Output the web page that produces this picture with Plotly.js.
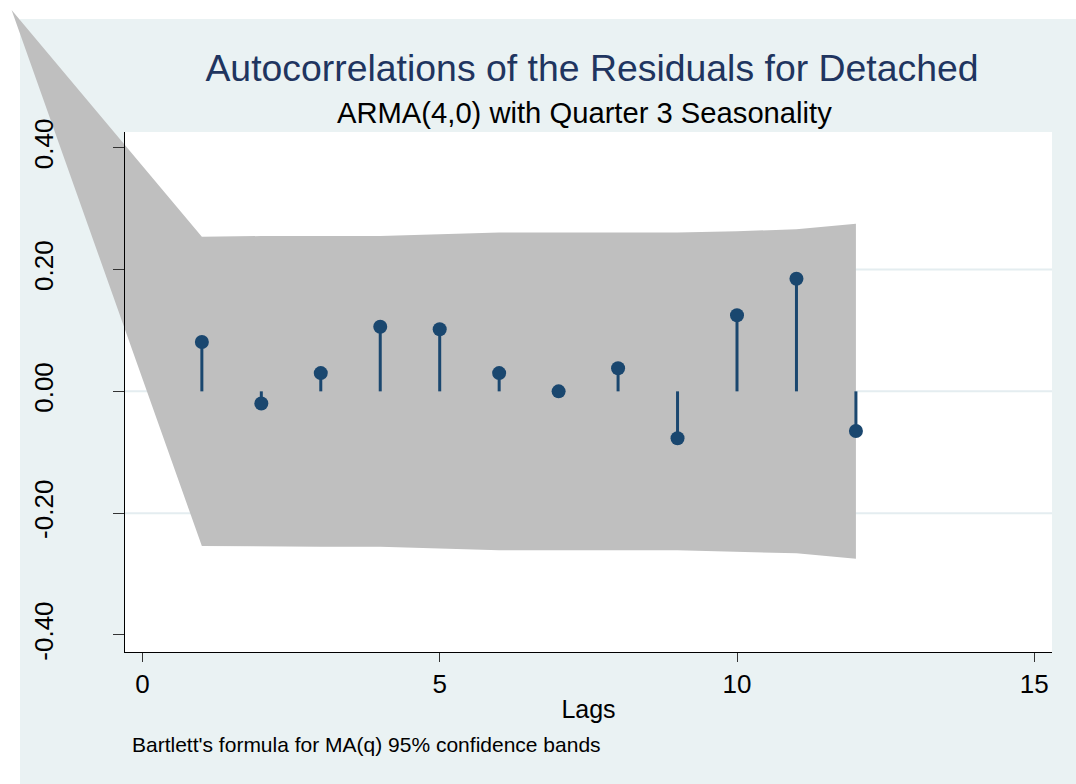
<!DOCTYPE html>
<html>
<head>
<meta charset="utf-8">
<script src="https://cdn.plot.ly/plotly-3.0.1.min.js"></script>
<style>
  html, body { margin: 0; padding: 0; background: #ffffff; }
  #chart { width: 1076px; height: 784px; }
</style>
</head>
<body>
<div id="chart"></div>
<script>
// Residual autocorrelations by lag
const lags = [1, 2, 3, 4, 5, 6, 7, 8, 9, 10, 11, 12];
const acValues = [0.081, -0.020, 0.030, 0.106, 0.102, 0.030, 0.000, 0.038, -0.077, 0.125, 0.185, -0.065];

// Bartlett 95% confidence band (first point is where the two edges meet)
const bandLags = [-2.2, 1, 2, 3, 4, 5, 6, 7, 8, 9, 10, 11, 12];
const bandUpper = [0.626, 0.254, 0.255, 0.255, 0.255, 0.258, 0.261, 0.261, 0.261, 0.261, 0.263, 0.266, 0.275];
const bandLower = [0.626, -0.254, -0.255, -0.255, -0.255, -0.258, -0.261, -0.261, -0.261, -0.261, -0.263, -0.266, -0.275];

// Axis ticks
const xTickVals = [0, 5, 10, 15];
const xTickText = ['0', '5', '10', '15'];
const yTickVals = [-0.4, -0.2, 0, 0.2, 0.4];
const yTickText = ['-0.40', '-0.20', '0.00', '0.20', '0.40'];
const gridVals = [-0.2, 0, 0.2];

// Page geometry (pixels)
const W = 1076, H = 784;
const plotLeft = 125, plotRight = 1052, plotTop = 132, plotBottom = 652;
const lag0Px = 142.4, pxPerLag = 59.46;   // where lag 0 sits, and spacing per lag
const zeroPx = 391.35, pxPerUnit = 609;   // where r = 0 sits, and spacing per unit

const FONT = 'Liberation Sans, Arial, Helvetica, sans-serif';
const NAVY = '#1a476f';
const BAND = '#bfbfbf';
const OUTER = '#eaf2f3';
const GRID = '#e4edf0';

const xDom = [plotLeft / W, plotRight / W];
const yDom = [1 - plotBottom / H, 1 - plotTop / H];

// Band polygon: upper edge forward, lower edge back
const bandX = bandLags.concat(bandLags.slice().reverse());
const bandY = bandUpper.concat(bandLower.slice().reverse());

// Stems from zero to each autocorrelation
const stemX = [], stemY = [];
lags.forEach((l, i) => { stemX.push(l, l, null); stemY.push(0, acValues[i], null); });

const traces = [
  {
    // the band spans the whole page so it can run past the plot region
    type: 'scatter', mode: 'lines', xaxis: 'x', yaxis: 'y',
    x: bandX, y: bandY, fill: 'toself', fillcolor: BAND,
    line: { width: 0, color: BAND }, hoverinfo: 'skip', showlegend: false
  },
  {
    type: 'scatter', mode: 'lines', xaxis: 'x2', yaxis: 'y2',
    x: stemX, y: stemY, line: { color: NAVY, width: 3 },
    hoverinfo: 'skip', showlegend: false
  },
  {
    type: 'scatter', mode: 'markers', xaxis: 'x2', yaxis: 'y2',
    x: lags, y: acValues, marker: { color: NAVY, size: 14 },
    showlegend: false
  }
];

const shapes = [
  // graph region fill
  { type: 'rect', xref: 'paper', yref: 'paper', x0: 20 / W, x1: 1, y0: 0, y1: 1 - 19 / H,
    fillcolor: OUTER, line: { width: 0 }, layer: 'below' },
  // plot region fill
  { type: 'rect', xref: 'paper', yref: 'paper', x0: xDom[0], x1: xDom[1], y0: yDom[0], y1: yDom[1],
    fillcolor: '#ffffff', line: { width: 0 }, layer: 'below' }
].concat(gridVals.map(v => ({
  type: 'line', xref: 'paper', yref: 'y2', x0: xDom[0], x1: xDom[1], y0: v, y1: v,
  line: { color: GRID, width: 2 }, layer: 'below'
})));

const layout = {
  width: W, height: H, autosize: false,
  margin: { l: 0, r: 0, t: 0, b: 0, pad: 0 },
  paper_bgcolor: '#ffffff',
  plot_bgcolor: 'rgba(0,0,0,0)',
  showlegend: false,
  hovermode: false,
  font: { family: FONT, color: '#000000' },
  title: {
    text: 'Autocorrelations of the Residuals for Detached',
    font: { family: FONT, size: 37.4, color: '#1f3560' },
    xref: 'paper', x: 592 / W, xanchor: 'center',
    yref: 'container', y: 1 - 68 / H, yanchor: 'middle'
  },
  xaxis: {
    domain: [0, 1], anchor: 'y', visible: false, fixedrange: true,
    range: [(0 - lag0Px) / pxPerLag, (W - lag0Px) / pxPerLag]
  },
  yaxis: {
    domain: [0, 1], anchor: 'x', visible: false, fixedrange: true,
    range: [-(H - zeroPx) / pxPerUnit, zeroPx / pxPerUnit]
  },
  xaxis2: {
    domain: xDom, anchor: 'y2', fixedrange: true,
    range: [(plotLeft - lag0Px) / pxPerLag, (plotRight - lag0Px) / pxPerLag],
    showgrid: false, zeroline: false,
    showline: true, linecolor: '#000000', linewidth: 1,
    ticks: 'outside', ticklen: 9, tickwidth: 1, tickcolor: '#333333',
    tickmode: 'array', tickvals: xTickVals, ticktext: xTickText,
    tickfont: { family: FONT, size: 26, color: '#000000' },
    title: { text: 'Lags', font: { family: FONT, size: 25, color: '#000000' }, standoff: 2 }
  },
  yaxis2: {
    domain: yDom, anchor: 'x2', fixedrange: true,
    range: [-(plotBottom - zeroPx) / pxPerUnit, (zeroPx - plotTop) / pxPerUnit],
    showgrid: false, zeroline: false,
    showline: true, linecolor: '#000000', linewidth: 1,
    ticks: 'outside', ticklen: 11, tickwidth: 1, tickcolor: '#333333',
    tickmode: 'array', tickvals: yTickVals, ticktext: yTickText,
    tickangle: -90, ticklabelstandoff: 50,
    tickfont: { family: FONT, size: 26, color: '#000000' }
  },
  shapes: shapes,
  annotations: [
    {
      text: 'ARMA(4,0) with Quarter 3 Seasonality',
      xref: 'paper', yref: 'paper', x: 585 / W, y: 1 - 113 / H,
      xanchor: 'center', yanchor: 'middle', showarrow: false,
      font: { family: FONT, size: 29.2, color: '#000000' }
    },
    {
      text: "Bartlett's formula for MA(q) 95% confidence bands",
      xref: 'paper', yref: 'paper', x: 130 / W, y: 1 - 744 / H,
      xanchor: 'left', yanchor: 'middle', showarrow: false,
      font: { family: FONT, size: 21, color: '#000000' }
    }
  ]
};

Plotly.newPlot('chart', traces, layout, { staticPlot: true, displayModeBar: false });
</script>
</body>
</html>
